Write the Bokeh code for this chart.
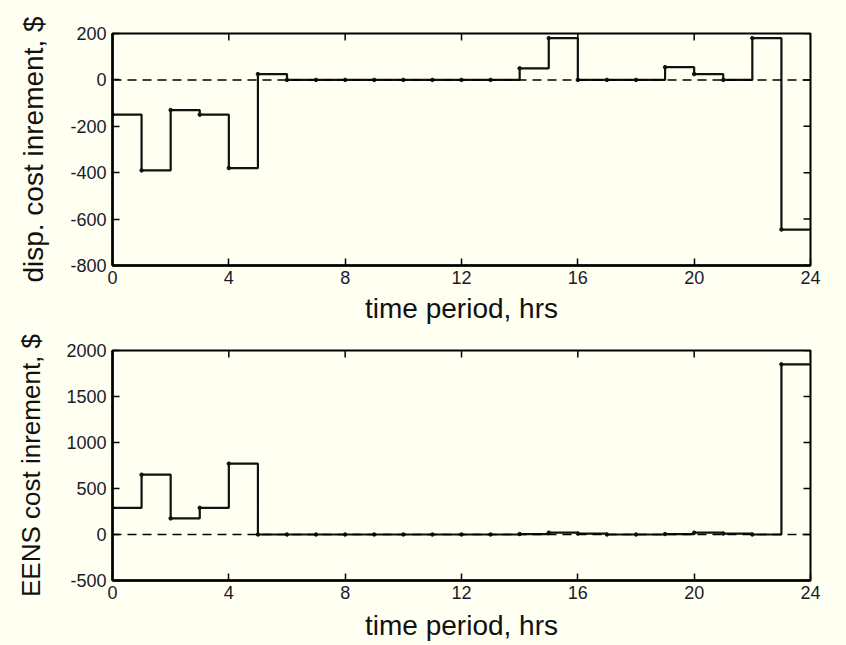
import math
from bokeh.plotting import figure
from bokeh.models import Range1d, FixedTicker, Span
from bokeh.layouts import column
from bokeh.embed import file_html
from bokeh.resources import INLINE

# ---- data ----
hours = [0, 1, 2, 3, 4, 5, 6, 7, 8, 9, 10, 11, 12, 13, 14, 15, 16, 17, 18, 19, 20, 21, 22, 23]
disp_cost = [-150, -390, -130, -150, -380, 25, 0, 0, 0, 0, 0, 0, 0, 0,
             50, 180, 0, 0, 0, 55, 25, 0, 180, -645]
eens_cost = [290, 650, 175, 290, 770, 0, 0, 0, 0, 0, 0, 0, 0, 0,
             5, 20, 10, 0, 0, 5, 20, 10, 0, 1850]
x_ticks = [0, 4, 8, 12, 16, 20, 24]
disp_ticks = [-800, -600, -400, -200, 0, 200]
eens_ticks = [-500, 0, 500, 1000, 1500, 2000]
x_label = "time period, hrs"
disp_label = "disp. cost inrement, $"
eens_label = "EENS cost inrement, $"

BG = "#fffff2"
FONT = "Liberation Sans"


def panel(values, yticks, ylabel, height, top, bottom, ylabel_size, label_standoff, xlabel_standoff):
    xmin, xmax = x_ticks[0], x_ticks[-1]
    ymin, ymax = yticks[0], yticks[-1]
    p = figure(width=846, height=height,
               x_range=Range1d(xmin, xmax), y_range=Range1d(ymin, ymax),
               output_backend="svg", toolbar_location=None,
               min_border_left=112, min_border_right=36,
               min_border_top=top, min_border_bottom=bottom,
               background_fill_color=BG, border_fill_color=BG)
    p.grid.visible = False
    p.outline_line_color = "black"
    p.outline_line_width = 2
    p.outline_line_alpha = 1

    # zero reference line
    p.add_layout(Span(location=0, dimension="width", line_color="black",
                      line_width=1.5, line_dash="9 6"))

    xs = hours + [hours[-1] + 1]
    ys = values + [values[-1]]
    p.step(x=xs, y=ys, mode="after", line_color="#111111", line_width=2.2)
    p.scatter(x=hours, y=values, size=3.5, color="#111111")

    # mirrored inward tick marks on top and right edges (half of each dash is clipped)
    p.scatter(x=x_ticks, y=[ymax] * len(x_ticks), marker="dash", size=14,
              angle=math.pi / 2, line_color="black", line_width=1.5)
    p.scatter(x=[xmax] * len(yticks), y=yticks, marker="dash", size=14,
              line_color="black", line_width=1.5)

    xa = p.xaxis[0]
    xa.ticker = FixedTicker(ticks=x_ticks, minor_ticks=[])
    xa.major_label_overrides = {t: str(t) for t in x_ticks}
    ya = p.yaxis[0]
    ya.ticker = FixedTicker(ticks=yticks, minor_ticks=[])
    ya.major_label_overrides = {t: str(t) for t in yticks}

    for ax in (xa, ya):
        ax.major_tick_in = 7
        ax.major_tick_out = 0
        ax.minor_tick_line_color = None
        ax.axis_line_color = "black"
        ax.axis_line_width = 2.5
        ax.major_tick_line_color = "black"
        ax.major_tick_line_width = 1.5
        ax.major_label_text_font = FONT
        ax.major_label_text_font_size = "18px"
        ax.major_label_text_color = "#1a1a2a"
        ax.axis_label_text_font = FONT
        ax.axis_label_text_font_style = "normal"
        ax.axis_label_text_color = "#111111"

    xa.axis_label = x_label
    xa.axis_label_text_font_size = "28px"
    xa.major_label_standoff = 5
    xa.axis_label_standoff = xlabel_standoff

    ya.axis_label = ylabel
    ya.axis_label_text_font_size = ylabel_size
    ya.major_label_standoff = 6
    ya.axis_label_standoff = label_standoff
    return p


p1 = panel(disp_cost, disp_ticks, disp_label, 326, 33, 61, "28px", 18, 6)
p2 = panel(eens_cost, eens_ticks, eens_label, 319, 24, 65, "26px", 17, 8)

layout = column(p1, p2, spacing=0)
layout.styles = {"background-color": BG}

open("out.html", "w").write(file_html(layout, INLINE))
